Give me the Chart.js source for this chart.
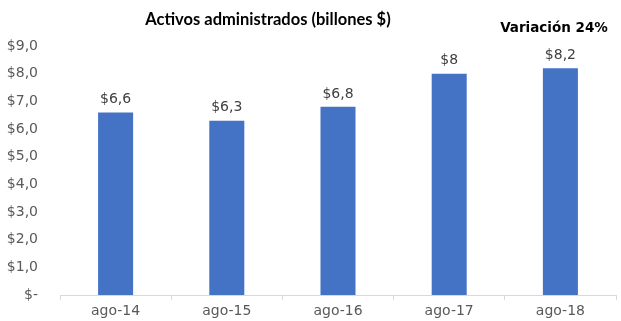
<!DOCTYPE html>
<html>
<head>
<meta charset="utf-8">
<script src="https://cdn.jsdelivr.net/npm/chart.js@4/dist/chart.umd.min.js"></script>
<style>
  html, body { margin: 0; padding: 0; background: #fff; }
  #wrap { width: 621px; height: 321px; position: relative; }
</style>
</head>
<body>
<div id="wrap"><canvas id="activosChart"></canvas></div>
<script>
// Activos administrados, billones de pesos
const periodos = ['ago-14', 'ago-15', 'ago-16', 'ago-17', 'ago-18'];
const activos = [6.6, 6.3, 6.8, 8, 8.2];
const yTicks = [0, 1, 2, 3, 4, 5, 6, 7, 8, 9];

const titulo = 'Activos administrados (billones $)';
const variacion = 'Variación 24%';
const fontFamily = "'Century Gothic', 'DejaVu Sans', sans-serif";
const titleFamily = "'Century Gothic', Lato, sans-serif";

function pesos(v) {
  return '$' + String(v).replace('.', ',');
}

// Title, variation note and value labels over each bar
const textPlugin = {
  id: 'textPlugin',
  afterDatasetsDraw(chart) {
    const ctx = chart.ctx;
    ctx.save();
    ctx.textAlign = 'center';

    ctx.fillStyle = '#000';
    ctx.font = 'bold 16.5px ' + titleFamily;
    ctx.textBaseline = 'middle';
    ctx.fillText(titulo, 268, 20);

    ctx.font = 'bold 13.5px ' + fontFamily;
    ctx.fillText(variacion, 554, 28);

    ctx.fillStyle = '#404040';
    ctx.font = '14px ' + fontFamily;
    ctx.textBaseline = 'bottom';
    const meta = chart.getDatasetMeta(0);
    meta.data.forEach((bar, i) => {
      ctx.fillText(pesos(activos[i]), bar.x, bar.y - 6);
    });
    ctx.restore();
  }
};

new Chart(document.getElementById('activosChart'), {
  type: 'bar',
  data: {
    labels: periodos,
    datasets: [{
      data: activos,
      backgroundColor: '#4472C4',
      barPercentage: 0.63,
      categoryPercentage: 0.5
    }]
  },
  options: {
    responsive: true,
    maintainAspectRatio: false,
    animation: false,
    layout: { padding: { top: 46, right: 5, left: 0, bottom: 0 } },
    plugins: {
      legend: { display: false },
      title: { display: false },
      tooltip: { enabled: false }
    },
    scales: {
      x: {
        afterFit(scale) { scale.height = 26; },
        border: { color: '#d9d9d9' },
        grid: {
          offset: true,
          drawOnChartArea: false,
          color: '#d9d9d9',
          tickLength: 5
        },
        ticks: {
          color: '#595959',
          padding: 3,
          font: { family: fontFamily, size: 14 }
        }
      },
      y: {
        min: yTicks[0],
        max: yTicks[yTicks.length - 1],
        afterFit(scale) { scale.width = 60; },
        afterBuildTicks(scale) {
          scale.ticks = yTicks.map(v => ({ value: v }));
        },
        border: { display: false },
        grid: { display: false },
        ticks: {
          color: '#595959',
          padding: 14,
          font: { family: fontFamily, size: 14 },
          callback: v => v === 0 ? '$-' : '$' + v.toFixed(1).replace('.', ',')
        }
      }
    }
  },
  plugins: [textPlugin]
});
</script>
</body>
</html>
